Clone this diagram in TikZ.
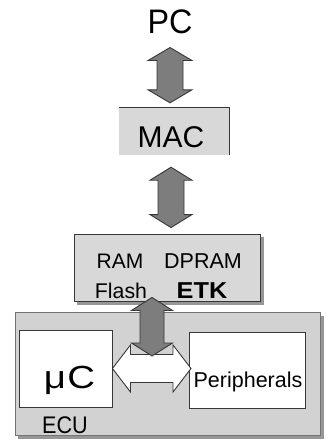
\documentclass[tikz,border=0pt]{standalone}
\usepackage{fontspec}
\setmainfont{Liberation Sans}
\usepackage{graphicx}
\usetikzlibrary{calc}
\definecolor{boxgray}{RGB}{216,216,216}
\definecolor{ecugray}{RGB}{210,210,210}
\definecolor{shadowgray}{RGB}{150,150,150}
\definecolor{arrowgray}{RGB}{125,125,125}
\definecolor{edgegray}{RGB}{55,55,55}
\newcommand\vfat[6]{%
 \path[#1] let \p1=(#2), \p2=(#3) in
 (\x1,\y1) -- (\x1+#4/2,\y1-#6) -- (\x1+#5/2,\y1-#6) -- (\x1+#5/2,\y2+#6) -- (\x1+#4/2,\y2+#6) -- (\x1,\y2)
 -- (\x1-#4/2,\y2+#6) -- (\x1-#5/2,\y2+#6) -- (\x1-#5/2,\y1-#6) -- (\x1-#4/2,\y1-#6) -- cycle;}
\newcommand\hfat[6]{%
 \path[#1] let \p1=(#2), \p2=(#3) in
 (\x1,\y1) -- (\x1+#6,\y1+#4/2) -- (\x1+#6,\y1+#5/2) -- (\x2-#6,\y1+#5/2) -- (\x2-#6,\y1+#4/2) -- (\x2,\y1)
 -- (\x2-#6,\y1-#4/2) -- (\x2-#6,\y1-#5/2) -- (\x1+#6,\y1-#5/2) -- (\x1+#6,\y1-#4/2) -- cycle;}
\tikzset{
 txt/.style={inner sep=0pt, anchor=base, text=black},
 grayarrow/.style={fill=arrowgray, draw=edgegray, line width=0.9pt, line join=miter},
 whitearrow/.style={fill=white, draw=edgegray, line width=0.9pt, line join=miter},
 shadowbox/.style={fill=shadowgray, draw=none},
 etkstyle/.style={fill=boxgray, draw=edgegray, line width=0.9pt},
 ecustyle/.style={fill=ecugray, draw=edgegray!70, line width=0.9pt},
 innerbox/.style={fill=white, draw=edgegray, line width=0.9pt},
}
\begin{document}
\begin{tikzpicture}[x=1pt,y=-1pt]
\useasboundingbox[fill=white] (0,0) rectangle (328,445);
% ECU
\fill[shadowgray] (18,316) rectangle (324,439);
\path[ecustyle] (15,312) rectangle (320,435);
\node[innerbox, minimum width=93pt, minimum height=77pt, inner sep=0pt] (ucbox) at (65.5,368.5) {};
\node[innerbox, minimum width=116pt, minimum height=76pt, inner sep=0pt] (perbox) at (247,370) {};
\node[txt, font=\fontsize{32}{32}\selectfont] (uc) at (69.5,388) {\scalebox{1.2}[1]{μ\kern1pt C}};
\node[txt, font=\fontsize{21.5}{22}\selectfont] (per) at (248,387) {Peripherals};
\node[txt, font=\fontsize{24}{24}\selectfont] (ecu) at (65,433) {\scalebox{0.9}[1]{ECU}};
% ETK
\fill[shadowgray] (77,237) rectangle (264,305);
\node[etkstyle, minimum width=186pt, minimum height=67pt, inner sep=0pt] (etkbox) at (167,267.5) {};
\node[txt, font=\fontsize{21}{21}\selectfont] (ram) at (120,268) {RAM};
\node[txt, font=\fontsize{21.5}{22}\selectfont] (dpram) at (203,268) {DPRAM};
\node[txt, font=\fontsize{21.3}{22}\selectfont] (flash) at (121,298) {Flash};
\node[txt, font=\bfseries\fontsize{23}{23}\selectfont] (etk) at (202,298) {\scalebox{1.1}[1]{ETK}};
% MAC
\node[fill=boxgray, minimum width=110pt, minimum height=47pt, inner sep=0pt] (macbox) at (174,131.5) {};
\draw[edgegray, line width=1pt] (macbox.north west) -- (macbox.north east) -- (macbox.south east);
\node[txt, font=\fontsize{30}{30}\selectfont] (mac) at (171,147) {MAC};
% PC
\node[txt, font=\fontsize{34}{34}\selectfont] (pc) at (170,33) {\scalebox{0.95}[1]{PC}};
% connector coordinates
\coordinate (a1t) at ([yshift=-14pt]pc.south);
\coordinate (a1b) at ([yshift=5pt]macbox.north -| pc.south);
\coordinate (a2t) at ([yshift=-12pt]macbox.south -| mac.base);
\coordinate (a2b) at ([yshift=6pt]etkbox.north -| mac.base);
\coordinate (a3t) at ([yshift=4pt]etkbox.south -| 152,0);
\coordinate (a3b) at (152,356);
% arrows
\hfat{whitearrow}{ucbox.east}{perbox.west -| 191,0}{47pt}{28pt}{18pt}
\vfat{grayarrow}{a1t}{a1b}{44pt}{26pt}{13pt}
\vfat{grayarrow}{a2t}{a2b}{42pt}{26pt}{13pt}
\vfat{grayarrow}{a3t}{a3b}{41pt}{24pt}{13pt}
\end{tikzpicture}
\end{document}
